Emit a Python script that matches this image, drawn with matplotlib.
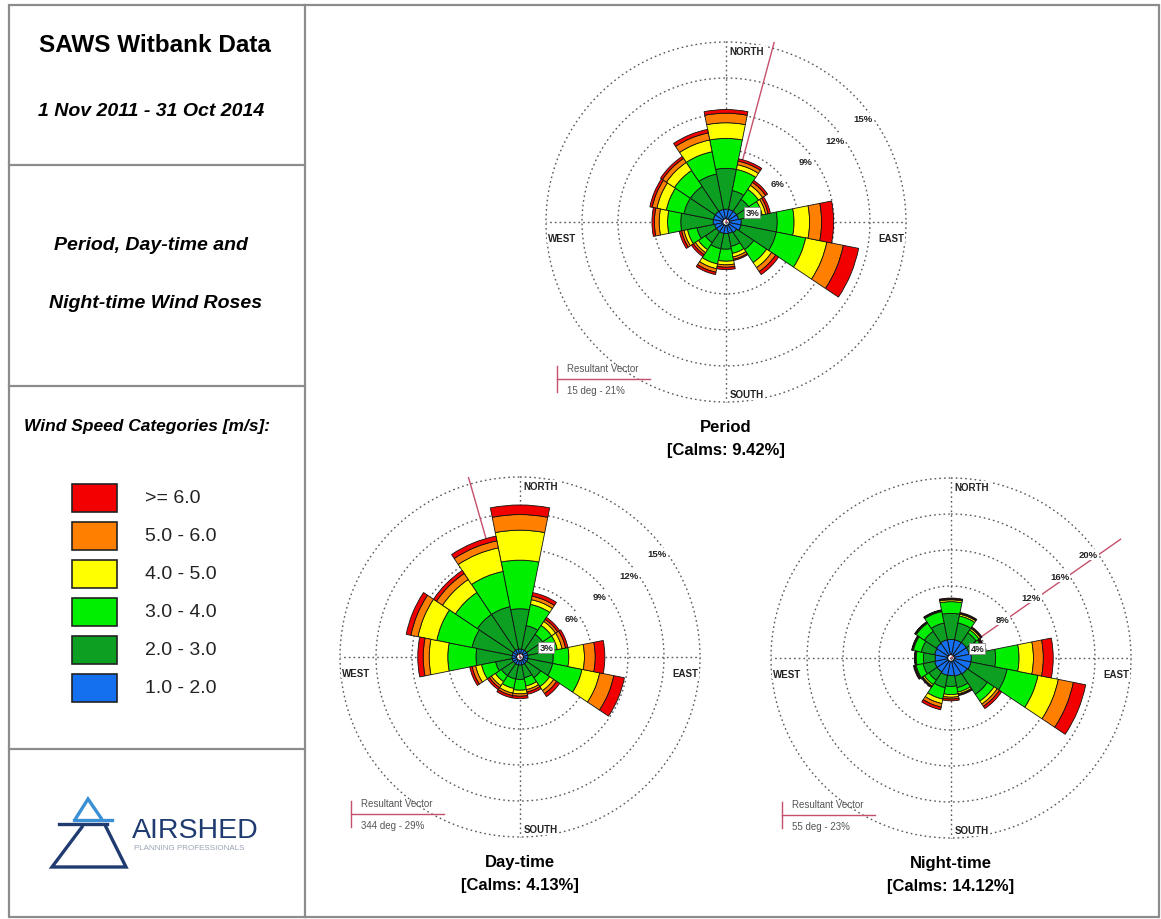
import numpy as np
import matplotlib.pyplot as plt
from matplotlib.patches import Rectangle

plt.rcParams['font.family'] = ['Liberation Sans', 'DejaVu Sans']

# 16 compass sectors, clockwise from north
directions = ["N", "NNE", "NE", "ENE", "E", "ESE", "SE", "SSE",
              "S", "SSW", "SW", "WSW", "W", "WNW", "NW", "NNW"]
direction_deg = np.arange(16) * 22.5

# speed classes, lowest first
speed_labels = ["1.0 - 2.0", "2.0 - 3.0", "3.0 - 4.0", "4.0 - 5.0", "5.0 - 6.0", ">= 6.0"]
speed_colors = ["#1470ee", "#0c9f22", "#00ee00", "#ffff00", "#ff8000", "#f20000"]

# frequency (%) per speed class (rows) and direction (columns)
period_freq = [
    [0.8, 0.8, 0.8, 0.8, 1.0, 1.0, 0.8, 0.7, 0.7, 0.7, 0.7, 0.7, 0.8, 0.8, 0.8, 0.8],
    [3.4, 1.6, 1.2, 1.1, 3.0, 3.0, 1.7, 1.1, 1.3, 1.3, 1.1, 1.5, 2.7, 2.5, 2.5, 3.0],
    [2.5, 1.8, 1.0, 0.9, 1.4, 2.5, 1.3, 0.6, 1.0, 1.3, 0.7, 0.8, 1.1, 1.5, 1.6, 1.9],
    [1.3, 0.4, 0.4, 0.3, 1.3, 1.8, 0.5, 0.3, 0.3, 0.4, 0.3, 0.3, 0.7, 0.8, 0.8, 1.0],
    [0.8, 0.3, 0.3, 0.2, 1.0, 1.4, 0.4, 0.2, 0.2, 0.3, 0.2, 0.2, 0.4, 0.4, 0.4, 0.6],
    [0.3, 0.2, 0.2, 0.2, 1.0, 1.3, 0.3, 0.1, 0.2, 0.2, 0.2, 0.2, 0.2, 0.2, 0.2, 0.3],
]
day_freq = [
    [0.4, 0.4, 0.4, 0.4, 0.4, 0.4, 0.4, 0.4, 0.4, 0.4, 0.4, 0.4, 0.4, 0.4, 0.4, 0.4],
    [3.35, 2.0, 1.6, 1.4, 2.1, 2.1, 1.4, 1.1, 1.2, 1.2, 1.2, 1.4, 3.0, 3.4, 3.6, 3.6],
    [4.05, 1.8, 0.9, 1.1, 1.3, 2.5, 0.9, 0.7, 0.9, 0.8, 0.6, 1.2, 2.35, 3.0, 2.2, 3.0],
    [2.5, 0.4, 0.4, 0.4, 1.3, 1.5, 0.4, 0.3, 0.3, 0.4, 0.4, 0.5, 1.55, 1.6, 1.3, 2.0],
    [1.3, 0.3, 0.2, 0.3, 0.9, 1.2, 0.3, 0.2, 0.2, 0.2, 0.2, 0.3, 0.5, 0.6, 0.6, 0.6],
    [0.8, 0.3, 0.2, 0.2, 0.8, 0.9, 0.3, 0.2, 0.2, 0.2, 0.2, 0.2, 0.45, 0.4, 0.3, 0.4],
]
night_freq = [
    [1.7, 1.7, 1.7, 1.7, 1.9, 1.9, 1.8, 1.7, 1.6, 1.6, 1.5, 1.5, 1.4, 1.5, 1.6, 1.7],
    [2.9, 1.9, 1.3, 1.1, 2.7, 4.1, 2.7, 1.3, 1.2, 1.4, 1.1, 1.3, 1.3, 1.5, 1.6, 1.9],
    [1.3, 0.8, 0.4, 0.4, 2.6, 3.5, 0.9, 0.5, 0.9, 1.3, 0.6, 0.8, 0.8, 0.9, 1.1, 1.3],
    [0.2, 0.2, 0.2, 0.1, 1.6, 2.3, 0.4, 0.2, 0.3, 0.5, 0.2, 0.1, 0.1, 0.1, 0.1, 0.1],
    [0.1, 0.1, 0.1, 0.1, 1.1, 1.7, 0.3, 0.1, 0.2, 0.4, 0.1, 0.1, 0.05, 0.05, 0.05, 0.05],
    [0.1, 0.1, 0.1, 0.1, 1.1, 1.4, 0.3, 0.1, 0.2, 0.3, 0.1, 0.1, 0.05, 0.05, 0.05, 0.05],
]

rose_names = ["Period", "Day-time", "Night-time"]
calms = [9.42, 4.13, 14.12]
vector_deg = [15, 344, 55]
vector_pct = [21, 29, 23]
ring_step = [3, 3, 4]
ring_max = [15, 15, 20]

fig = plt.figure(figsize=(11.61, 9.2), dpi=100)

# background canvas in pixel coordinates for frame, captions, legend and logo
bg = fig.add_axes([0, 0, 1, 1])
bg.set_xlim(0, 1161)
bg.set_ylim(920, 0)
bg.axis('off')

frame = '#8c8c8c'
bg.add_patch(Rectangle((9, 6), 1150, 912, fill=False, ec=frame, lw=1.6))
bg.plot([305, 305], [6, 918], color=frame, lw=1.6)
for y in [166, 387, 750]:
    bg.plot([9, 305], [y, y], color=frame, lw=1.6)

bg.text(155, 46, "SAWS Witbank Data", fontsize=17.5, fontweight='bold', ha='center', va='center')
bg.text(151, 112, "1 Nov 2011 - 31 Oct 2014", fontsize=14, fontweight='bold', style='italic',
        ha='center', va='center')
bg.text(151, 246, "Period, Day-time and", fontsize=14, fontweight='bold', style='italic',
        ha='center', va='center')
bg.text(156, 304, "Night-time Wind Roses", fontsize=14, fontweight='bold', style='italic',
        ha='center', va='center')
bg.text(147, 427, "Wind Speed Categories [m/s]:", fontsize=12.5, fontweight='bold', style='italic',
        ha='center', va='center')

# legend, highest speed on top
for i, (lab, col) in enumerate(zip(speed_labels[::-1], speed_colors[::-1])):
    top = 485 + 38 * i
    bg.add_patch(Rectangle((72, top), 45, 28, fc=col, ec='#222222', lw=1.2))
    bg.text(145, top + 14, lab, fontsize=14, ha='left', va='center', color='#222222')

# logo
light, navy = '#3b8fd4', '#1f3b70'
bg.plot([76, 88, 101], [819, 800, 819], color=light, lw=2.4, solid_joinstyle='miter')
bg.plot([74, 112], [821, 821], color=light, lw=2.4)
bg.plot([59, 107], [825, 825], color=navy, lw=2.4)
bg.plot([82, 52, 126, 106], [828, 868, 868, 828], color=navy, lw=2.4, solid_joinstyle='miter')
bg.text(132, 831, "AIRSHED", fontsize=20.5, color=navy, ha='left', va='center')
bg.text(134, 849, "PLANNING PROFESSIONALS", fontsize=5.8, color='#9aa4b6', ha='left', va='center')


def draw_rose(rect, freq, rmax, step, vdeg, vpct, name, calm):
    ax = fig.add_axes(rect, projection='polar')
    ax.set_theta_zero_location('N')
    ax.set_theta_direction(-1)
    ax.set_ylim(0, rmax)
    ax.grid(False)
    ax.set_xticks([])
    ax.set_yticks([])
    ax.spines['polar'].set_visible(False)

    dot = dict(color='#5a5a5a', ls=(0, (1.2, 2.2)), lw=1.0, zorder=1, clip_on=False)
    t = np.linspace(0, 2 * np.pi, 400)
    for r in np.arange(step, rmax + 0.01, step):
        ax.plot(t, np.full_like(t, r), **dot)
    for a in [0, 90, 180, 270]:
        ax.plot([np.deg2rad(a)] * 2, [0, rmax], **dot)

    # resultant vector, clipped to the square box instead of the circle
    vec, = ax.plot([np.deg2rad(vdeg)] * 2, [0, vpct], color='#c4506a', lw=1.0, zorder=1.5)
    vec.set_clip_path(None)
    vec.set_clip_box(ax.bbox)

    theta = np.deg2rad(direction_deg)
    width = np.deg2rad(22.5)
    bottom = np.full(16, rmax * 0.018)
    for vals, col in zip(freq, speed_colors):
        vals = np.array(vals)
        ax.bar(theta, vals, width=width, bottom=bottom, color=col,
               edgecolor='#111111', lw=0.6, zorder=2)
        bottom = bottom + vals

    # ring labels
    for k, r in enumerate(np.arange(step, rmax + 0.01, step)):
        ang = 70 if k == 0 else 53
        ec = '#888888' if k == 0 else 'none'
        ax.text(np.deg2rad(ang), r - 0.22 * step, f"{int(r)}%", fontsize=6.8, fontweight='bold',
                ha='center', va='center', zorder=5, color='#222222',
                bbox=dict(fc='white', ec=ec, lw=0.6, pad=0.8))

    lab = dict(transform=ax.transAxes, fontsize=7, fontweight='bold', zorder=5, color='#222222',
               bbox=dict(fc='white', ec='none', pad=0.5))
    ax.text(0.51, 0.975, "NORTH", ha='left', va='center', **lab)
    ax.text(0.51, 0.022, "SOUTH", ha='left', va='center', **lab)
    ax.text(0.005, 0.47, "WEST", ha='left', va='top', **lab)
    ax.text(0.995, 0.47, "EAST", ha='right', va='top', **lab)

    # resultant vector key
    ax.plot([0.03, 0.03], [0.028, 0.1], transform=ax.transAxes, color='#c4506a', lw=1.0, clip_on=False)
    ax.plot([0.03, 0.29], [0.064, 0.064], transform=ax.transAxes, color='#c4506a', lw=1.0, clip_on=False)
    ax.text(0.058, 0.094, "Resultant Vector", transform=ax.transAxes, fontsize=7,
            color='#555555', ha='left', va='center')
    ax.text(0.058, 0.033, f"{vdeg} deg - {vpct}%", transform=ax.transAxes, fontsize=7,
            color='#555555', ha='left', va='center')

    ax.text(0.5, -0.069, name, transform=ax.transAxes, fontsize=12, fontweight='bold',
            ha='center', va='center')
    ax.text(0.5, -0.131, f"[Calms: {calm:.2f}%]", transform=ax.transAxes, fontsize=12,
            fontweight='bold', ha='center', va='center')
    return ax


rects = [
    [546 / 1161, (920 - 403) / 920, 360 / 1161, 360 / 920],
    [340 / 1161, (920 - 838) / 920, 360 / 1161, 360 / 920],
    [771 / 1161, (920 - 839) / 920, 360 / 1161, 360 / 920],
]
freqs = [period_freq, day_freq, night_freq]
for i in range(3):
    draw_rose(rects[i], freqs[i], ring_max[i], ring_step[i], vector_deg[i], vector_pct[i],
              rose_names[i], calms[i])

plt.savefig('out.png', dpi=100)
